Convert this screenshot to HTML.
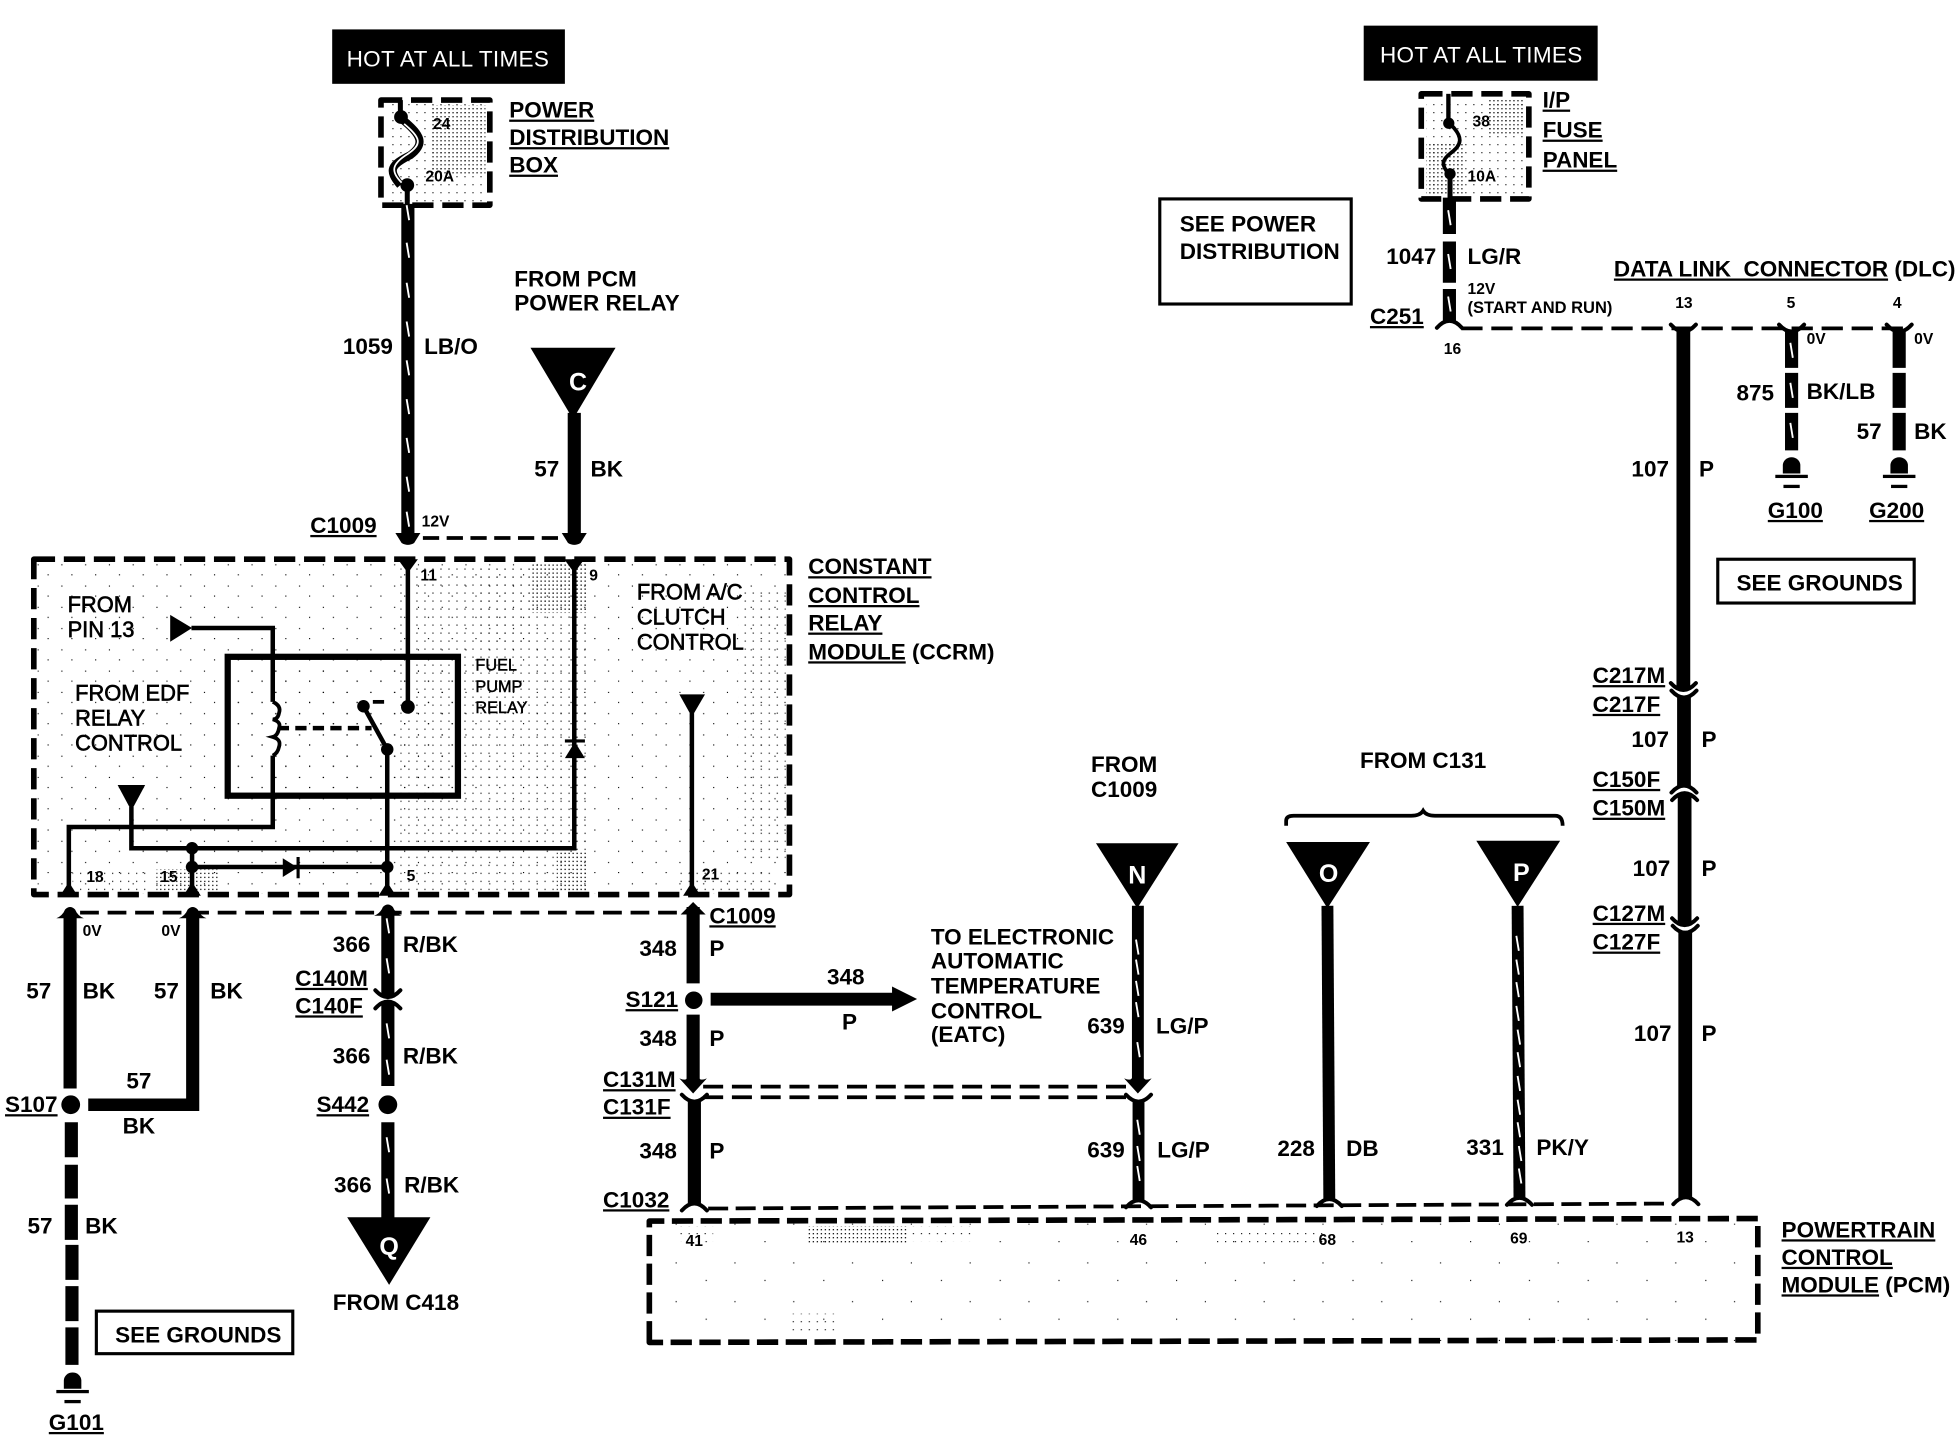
<!DOCTYPE html>
<html><head><meta charset="utf-8"><style>
html,body{margin:0;padding:0;background:#fff}
svg{display:block}
text{font-family:"Liberation Sans",sans-serif;font-weight:700;font-size:18px;fill:#000}
.r{font-weight:400;stroke:#000;stroke-width:.5px;font-size:17.5px}
.f{font-weight:400;stroke:#000;stroke-width:.35px;font-size:13px}
.s{font-size:12.500px}
.u{text-decoration:underline}
.w{fill:#fff}
.h{font-weight:400;letter-spacing:.25px}
.m{text-anchor:middle;font-size:20px}
.wire{stroke:#000;stroke-width:10.5;fill:none}
.thin{stroke:#000;stroke-width:3.6;fill:none}
.dash{stroke:#000;stroke-width:3;stroke-dasharray:16 7;fill:none}
.box{stroke:#000;stroke-width:4.5;stroke-dasharray:17 7;fill:none;stroke-linejoin:round}
.sl{stroke:#fff;stroke-width:1.5;fill:none}
.cup{stroke:#000;stroke-width:3.2;fill:none;stroke-linecap:round}
</style></head><body>
<svg xmlns="http://www.w3.org/2000/svg" width="1958" height="1440" viewBox="0 0 1565 1151">
<defs>
<pattern id="d1" width="3.2" height="3.2" patternUnits="userSpaceOnUse"><rect width="1" height="1" fill="#000"/></pattern>
<pattern id="d2" width="6.4" height="6.4" patternUnits="userSpaceOnUse"><rect width=".9" height=".9" fill="#000"/></pattern>
<pattern id="d3" width="19" height="17" patternUnits="userSpaceOnUse"><rect width=".9" height=".9" fill="#000"/><rect x="11" y="9" width=".9" height=".9" fill="#000"/></pattern>
<pattern id="d4" width="47" height="31" patternUnits="userSpaceOnUse"><rect width=".9" height=".9" fill="#000"/><rect x="23" y="17" width=".9" height=".9" fill="#000"/></pattern>
<path id="sl" class="sl" d="M-1,-6 L1,6"/>
<path id="cu" class="cup" d="M-10,-5 Q0,6 10,-5"/>
<path id="cn" class="cup" d="M-10,5 Q0,-6 10,5"/>
<path id="ar" d="M-11,-7 Q-6,-5 -5,-7 H5 Q6,-5 11,-7 L0,5Z"/>
<g id="gnd"><path d="M-7,13 V6.500 A7,6.500 0 0 1 7,6.500 V13Z"/><rect x="-13" y="14" width="26" height="2.600"/><rect x="-6.500" y="22" width="13" height="2.600"/></g>
<path id="pin" d="M0,-11 L7,0 L-7,0Z"/>
</defs>

<!-- stipple -->
<rect x="30" y="450" width="600" height="264" fill="url(#d3)"/>
<rect x="320" y="450" width="150" height="262" fill="url(#d2)"/>
<rect x="425" y="450" width="45" height="40" fill="url(#d1)"/>
<rect x="380" y="455" width="45" height="60" fill="url(#d2)"/>
<rect x="58" y="695" width="60" height="18" fill="url(#d2)"/>
<rect x="125" y="695" width="50" height="18" fill="url(#d1)"/>
<rect x="445" y="680" width="25" height="32" fill="url(#d1)"/>
<rect x="540" y="695" width="80" height="18" fill="url(#d2)"/>
<rect x="590" y="470" width="38" height="220" fill="url(#d2)"/>
<rect x="190" y="530" width="172" height="100" fill="url(#d3)"/>
<rect x="310" y="82" width="78" height="80" fill="url(#d2)"/>
<rect x="345" y="84" width="43" height="55" fill="url(#d1)"/>
<rect x="1140" y="78" width="78" height="78" fill="url(#d2)"/>
<rect x="1140" y="115" width="30" height="40" fill="url(#d1)"/>
<rect x="1190" y="78" width="28" height="30" fill="url(#d1)"/>
<rect x="520" y="978" width="885" height="95" fill="url(#d4)"/>
<rect x="645" y="980" width="80" height="15" fill="url(#d1)"/>
<rect x="540" y="980" width="30" height="12" fill="url(#d2)"/>
<rect x="720" y="980" width="60" height="12" fill="url(#d2)"/>
<rect x="970" y="982" width="90" height="12" fill="url(#d2)"/>
<rect x="630" y="1050" width="40" height="15" fill="url(#d2)"/>

<!-- top left -->
<rect x="265.500" y="23.500" width="186" height="43.500"/>
<text class="w h" x="277" y="53">HOT AT ALL TIMES</text>
<rect class="box" x="304.500" y="80" width="87" height="84"/>
<path d="M320,80 V93" stroke="#000" stroke-width="4" fill="none"/>
<circle cx="320.500" cy="93.500" r="5.500"/>
<circle cx="325.500" cy="148" r="5.500"/>
<path d="M321,95 C337,108 340,115 328,124 C312,132 310,136 320,148" stroke="#000" stroke-width="6.500" fill="none"/>
<path d="M323,99 C336,110 338,115 326,123 C313,131 312,137 321,146" stroke="#fff" stroke-width="1.400" fill="none"/>
<path d="M325.500,148 V165" stroke="#000" stroke-width="4" fill="none"/>
<text class="s" x="346" y="103">24</text>
<text class="s" x="340" y="145">20A</text>
<text class="u" x="407" y="94">POWER</text>
<text class="u" x="407" y="116">DISTRIBUTION</text>
<text class="u" x="407" y="138">BOX</text>
<text x="411" y="229">FROM PCM</text>
<text x="411" y="248">POWER RELAY</text>

<path class="wire" d="M326,163 V428"/>
<use href="#sl" x="326" y="170"/><use href="#sl" x="326" y="200"/><use href="#sl" x="326" y="232"/><use href="#sl" x="326" y="263"/><use href="#sl" x="326" y="294"/><use href="#sl" x="326" y="325"/><use href="#sl" x="326" y="356"/><use href="#sl" x="326" y="387"/><use href="#sl" x="326" y="415"/>
<path d="M316,426 H336 L331,434 Q326,437 321,434Z"/>
<text x="274" y="283">1059</text><text x="339" y="283">LB/O</text>
<text class="u" x="248" y="426">C1009</text>
<text class="s" x="337" y="421">12V</text>
<path class="dash" d="M338,430 H452" style="stroke-dasharray:13 6"/>
<path d="M424,278 H492 L458,335Z"/>
<text class="m w" x="462" y="312">C</text>
<path class="wire" d="M459,330 V428"/>
<path d="M449,426 H469 L464,434 Q459,437 454,434Z"/>
<text x="427" y="381">57</text><text x="472" y="381">BK</text>

<!-- CCRM -->
<rect class="box" x="27" y="447" width="604" height="268"/>
<text class="u" x="646" y="459">CONSTANT</text>
<text class="u" x="646" y="482">CONTROL</text>
<text class="u" x="646" y="504">RELAY</text>
<text x="646" y="527"><tspan class="u">MODULE</tspan> (CCRM)</text>
<text class="s" x="336" y="464">11</text><text class="s" x="471" y="464">9</text>
<text class="r" x="509" y="479">FROM A/C</text><text class="r" x="509" y="499">CLUTCH</text><text class="r" x="509" y="519">CONTROL</text>
<text class="r" x="54" y="489">FROM</text><text class="r" x="54" y="509">PIN 13</text>
<text class="r" x="60" y="560">FROM EDF</text><text class="r" x="60" y="580">RELAY</text><text class="r" x="60" y="600">CONTROL</text>
<text class="f" x="380" y="536">FUEL</text><text class="f" x="380" y="553">PUMP</text><text class="f" x="380" y="570">RELAY</text>
<text class="s" x="69" y="705">18</text><text class="s" x="128" y="705">15</text><text class="s" x="325" y="704">5</text><text class="s" x="561" y="703">21</text>

<rect x="182" y="525" width="184" height="111" fill="none" stroke="#000" stroke-width="5"/>
<path class="thin" d="M153,502 H218 V561 M218,604 V661 H55 V714"/>
<path d="M136,491.500 L153.500,502 L136,513Z"/>
<path class="thin" d="M218,561 q7,3 5,9 q-1,5 -5,5 q7,2 5,7 q-1,6 -5,7 q7,2 5,8 q-1,5 -5,7" style="stroke-width:3"/>
<path class="thin" d="M222,582 H297" style="stroke-dasharray:9 5"/>
<circle cx="290.500" cy="564.500" r="5"/><circle cx="326" cy="565" r="5.500"/><circle cx="309.500" cy="599" r="5"/>
<path class="thin" d="M290.500,564.500 L309.500,599 V714"/>
<path class="thin" d="M298,561 H307" style="stroke-width:3"/>
<path class="thin" d="M326,447 V565"/>
<path class="thin" d="M459,447 V678 H105 V645"/>
<path d="M94,627.500 H116 L105,648Z"/>
<path d="M451.500,606 H467.500 L459.500,593Z"/><rect x="451.500" y="591" width="16" height="2.500"/>
<path d="M318,447 H334 L326,458Z"/><path d="M451,447 H467 L459,458Z"/>
<path class="thin" d="M153.500,678 V714 M153.500,693 H309"/>
<circle cx="153.500" cy="678" r="5"/><circle cx="153.500" cy="693" r="5"/><circle cx="309.500" cy="693" r="5"/>
<path d="M226,686 L238,693.500 L226,701Z"/><rect x="237" y="685" width="2.500" height="17"/>
<path d="M543,555 H563.500 L553,573Z"/><path class="thin" d="M553,570 V714"/>
<use href="#pin" x="55" y="716"/><use href="#pin" x="153.500" y="716"/><use href="#pin" x="309.500" y="716"/><use href="#pin" x="553" y="716"/>

<!-- below module left -->
<path class="dash" d="M64,729.500 H548" style="stroke-dasharray:15 7"/>
<path d="M45,734 Q50,732 52,727 Q56,723 60,727 Q62,732 67,734Z"/><path d="M143,734 Q148,732 150,727 Q154,723 158,727 Q160,732 165,734Z"/><path d="M299,732 Q304,730 306,725 Q310,721 314,725 Q316,730 321,732Z"/><path d="M544,731 L554,721 L564,731Z"/>
<path class="wire" d="M56,730 V870"/><path class="wire" d="M154,730 V888"/>
<path d="M70.500,878 H159 V888 H70.500Z"/>
<circle cx="56.500" cy="883" r="7.500"/>
<text class="s" x="66" y="748">0V</text><text class="s" x="129" y="748">0V</text>
<text x="21" y="798">57</text><text x="66" y="798">BK</text><text x="123" y="798">57</text><text x="168" y="798">BK</text>
<text class="u" x="4" y="889">S107</text><text x="101" y="870">57</text><text x="98" y="906">BK</text>
<path class="wire" d="M57,897 V925 M57,931 V958 M57,963 V991 M57.500,995 V1023 M57.500,1028 V1056 M57.500,1061 V1091"/>
<text x="22" y="986">57</text><text x="68" y="986">BK</text>
<use href="#gnd" x="58" y="1097"/>
<text class="u" x="39" y="1143">G101</text>
<rect x="77" y="1048" width="157" height="34" fill="none" stroke="#000" stroke-width="2.500"/>
<text x="92" y="1073">SEE GROUNDS</text>

<path class="wire" d="M310,730 V796 M310,801 V868 M310,897 V975"/>
<use href="#cu" x="310" y="796.500"/><use href="#cn" x="310" y="801"/>
<use href="#sl" x="310" y="740"/><use href="#sl" x="310" y="772"/><use href="#sl" x="310" y="824"/><use href="#sl" x="310" y="853"/><use href="#sl" x="310" y="915"/><use href="#sl" x="310" y="948"/>
<circle cx="310" cy="883" r="7.500"/>
<text x="266" y="761">366</text><text x="322" y="761">R/BK</text>
<text class="u" x="236" y="788">C140M</text><text class="u" x="236" y="810">C140F</text>
<text x="266" y="850">366</text><text x="322" y="850">R/BK</text>
<text class="u" x="253" y="889">S442</text>
<text x="267" y="953">366</text><text x="323" y="953">R/BK</text>
<path d="M277.500,973 H344 L311,1027Z"/>
<text class="m w" x="311" y="1003">Q</text>
<text x="266" y="1047">FROM C418</text>

<!-- S121 -->
<path class="wire" d="M554,725 V786 M554,811 V868 M555,880 V962"/>
<use href="#ar" x="554" y="869"/><use href="#cu" x="555" y="880"/><use href="#cn" x="555" y="962.500"/>
<circle cx="554.500" cy="799.500" r="7"/>
<path d="M568,793.500 H713 V788.500 L733,798.500 L713,808.500 V803.800 H568Z"/>
<text x="661" y="787">348</text><text x="673" y="823">P</text>
<text x="744" y="755">TO ELECTRONIC</text><text x="744" y="774">AUTOMATIC</text><text x="744" y="794">TEMPERATURE</text><text x="744" y="814">CONTROL</text><text x="744" y="833">(EATC)</text>
<text class="u" x="567" y="738">C1009</text>
<text x="511" y="764">348</text><text x="567" y="764">P</text>
<text class="u" x="500" y="805">S121</text>
<text x="511" y="836">348</text><text x="567" y="836">P</text>
<text class="u" x="482" y="869">C131M</text><text class="u" x="482" y="891">C131F</text>
<text x="511" y="926">348</text><text x="567" y="926">P</text>
<text class="u" x="482" y="965">C1032</text>
<path class="dash" d="M562,868.500 H905 M562,877 H905"/>

<!-- N O P -->
<path d="M876,674 H942 L909,726Z"/><path d="M1028,673 H1095 L1061,726Z"/><path d="M1180,672 H1247 L1213,725Z"/>
<text class="m w" x="909" y="706">N</text><text class="m w" x="1062" y="705">O</text><text class="m w" x="1216" y="704">P</text>
<text x="872" y="617">FROM</text><text x="872" y="637">C1009</text><text x="1087" y="614">FROM C131</text>
<path d="M1028,660 V656 Q1028,652 1034,652 H1128 Q1135,652 1137.500,648 Q1140,652 1147,652 H1243 Q1249,652 1249,660" stroke="#000" stroke-width="3" fill="none"/>
<path class="wire" d="M909.500,724 V868 M910,880 V960" style="stroke-width:9.500"/>
<use href="#ar" x="909.500" y="869"/><use href="#cu" x="910" y="880"/><use href="#cn" x="910" y="960"/>
<use href="#sl" x="909" y="757"/><use href="#sl" x="909" y="773"/><use href="#sl" x="909" y="790"/><use href="#sl" x="909" y="807"/><use href="#sl" x="910" y="839"/><use href="#sl" x="910" y="901"/><use href="#sl" x="910" y="922"/><use href="#sl" x="910" y="938"/>
<path class="wire" d="M1061,724 L1062.500,959" style="stroke-width:9.500"/><use href="#cn" x="1062.500" y="959"/>
<path class="wire" d="M1213,724 L1214.500,958" style="stroke-width:9.500"/><use href="#cn" x="1214.500" y="958"/>
<use href="#sl" x="1213" y="754"/><use href="#sl" x="1213" y="773"/><use href="#sl" x="1213" y="791"/><use href="#sl" x="1213" y="810"/><use href="#sl" x="1214" y="829"/><use href="#sl" x="1214" y="847"/><use href="#sl" x="1214" y="866"/><use href="#sl" x="1214" y="885"/><use href="#sl" x="1214" y="903"/><use href="#sl" x="1215" y="922"/><use href="#sl" x="1215" y="940"/>
<text x="869" y="826">639</text><text x="924" y="826">LG/P</text><text x="869" y="925">639</text><text x="925" y="925">LG/P</text>
<text x="1021" y="924">228</text><text x="1076" y="924">DB</text><text x="1172" y="923">331</text><text x="1228" y="923">PK/Y</text>

<path class="dash" d="M566,966 L1336,962" style="stroke-dasharray:16 6"/>

<!-- PCM -->
<path class="box" d="M519,1073 V976 L1405,974 V1071 L519,1073Z" style="stroke-dasharray:17 6"/>
<text class="s" x="548" y="996">41</text><text class="s" x="903" y="995">46</text><text class="s" x="1054" y="995">68</text><text class="s" x="1207" y="994">69</text><text class="s" x="1340" y="993">13</text>
<text class="u" x="1424" y="989">POWERTRAIN</text><text class="u" x="1424" y="1011">CONTROL</text>
<text x="1424" y="1033"><tspan class="u">MODULE</tspan> (PCM)</text>

<!-- top right -->
<rect x="1090" y="20.500" width="187" height="44"/>
<text class="w h" x="1103" y="50">HOT AT ALL TIMES</text>
<rect class="box" x="1136" y="75" width="86" height="84"/>
<path d="M1157.700,75 V98" stroke="#000" stroke-width="3.500" fill="none"/>
<circle cx="1158" cy="98.500" r="4.500"/><circle cx="1159" cy="139" r="4.500"/>
<path d="M1160,100 C1170,110 1168,116 1160,122 C1152,128 1152,132 1158,139" stroke="#000" stroke-width="3" fill="none"/>
<path d="M1159,139 V160" stroke="#000" stroke-width="4" fill="none"/>
<text class="s" x="1177" y="101">38</text><text class="s" x="1173" y="145">10A</text>
<text class="u" x="1233" y="86">I/P</text><text class="u" x="1233" y="110">FUSE</text><text class="u" x="1233" y="134">PANEL</text>
<path class="wire" d="M1158.500,158 V187 M1158.500,193 V226 M1158.500,231 V257"/>
<use href="#sl" x="1158.500" y="174"/><use href="#sl" x="1158.500" y="209"/><use href="#sl" x="1158.500" y="243"/>
<use href="#cn" x="1158.500" y="257"/>
<path class="dash" d="M1168,262.500 H1524" style="stroke-dasharray:17 7"/>
<rect x="927" y="159" width="153" height="84" fill="none" stroke="#000" stroke-width="2.500"/>
<text x="943" y="185">SEE POWER</text><text x="943" y="207">DISTRIBUTION</text>
<text x="1108" y="211">1047</text><text x="1173" y="211">LG/R</text>
<text class="s" x="1173" y="235">12V</text><text x="1173" y="250" style="font-size:13.200px">(START AND RUN)</text>
<text class="u" x="1095" y="259">C251</text><text class="s" x="1154" y="283">16</text>
<text x="1290" y="221" style="white-space:pre"><tspan class="u">DATA LINK  CONNECTOR</tspan> (DLC)</text>
<text class="s" x="1339" y="246">13</text><text class="s" x="1428" y="246">5</text><text class="s" x="1513" y="246">4</text>
<text class="s" x="1444" y="275">0V</text><text class="s" x="1530" y="275">0V</text>

<path class="wire" d="M1345.500,265 V551" style="stroke-width:11"/>
<path class="wire" d="M1346,557 V628.500 M1346.500,634.500 V739 M1347,745 V958" style="stroke-width:11"/>
<use href="#cu" x="1345.500" y="551"/><use href="#cu" x="1346" y="557"/>
<use href="#cn" x="1346" y="628.500"/><use href="#cn" x="1346.500" y="634.500"/>
<use href="#cu" x="1346.500" y="739"/><use href="#cu" x="1347" y="745"/>
<use href="#cn" x="1347.500" y="957.500"/>
<use href="#cu" x="1345.500" y="264.500"/><use href="#cu" x="1432" y="264.500"/><use href="#cu" x="1518" y="264.500"/>
<path class="wire" d="M1432,265 V294 M1432,298 V326 M1432,330 V360"/>
<use href="#sl" x="1432" y="280"/><use href="#sl" x="1432" y="312"/><use href="#sl" x="1432" y="344"/>
<path class="wire" d="M1518,265 V294 M1518,298 V326 M1518,330 V360"/>
<use href="#gnd" x="1432" y="365.500"/><use href="#gnd" x="1518" y="365.500"/>
<text x="1388" y="320">875</text><text x="1444" y="319">BK/LB</text>
<text x="1484" y="351">57</text><text x="1530" y="351">BK</text>
<text x="1304" y="381">107</text><text x="1358" y="381">P</text>
<text class="u" x="1413" y="414">G100</text><text class="u" x="1494" y="414">G200</text>
<rect x="1373" y="447" width="157" height="35" fill="none" stroke="#000" stroke-width="2.500"/>
<text x="1388" y="472">SEE GROUNDS</text>
<text class="u" x="1273" y="546">C217M</text><text class="u" x="1273" y="569">C217F</text>
<text x="1304" y="597">107</text><text x="1360" y="597">P</text>
<text class="u" x="1273" y="629">C150F</text><text class="u" x="1273" y="652">C150M</text>
<text x="1305" y="700">107</text><text x="1360" y="700">P</text>
<text class="u" x="1273" y="736">C127M</text><text class="u" x="1273" y="759">C127F</text>
<text x="1306" y="832">107</text><text x="1360" y="832">P</text>
</svg>
</body></html>
